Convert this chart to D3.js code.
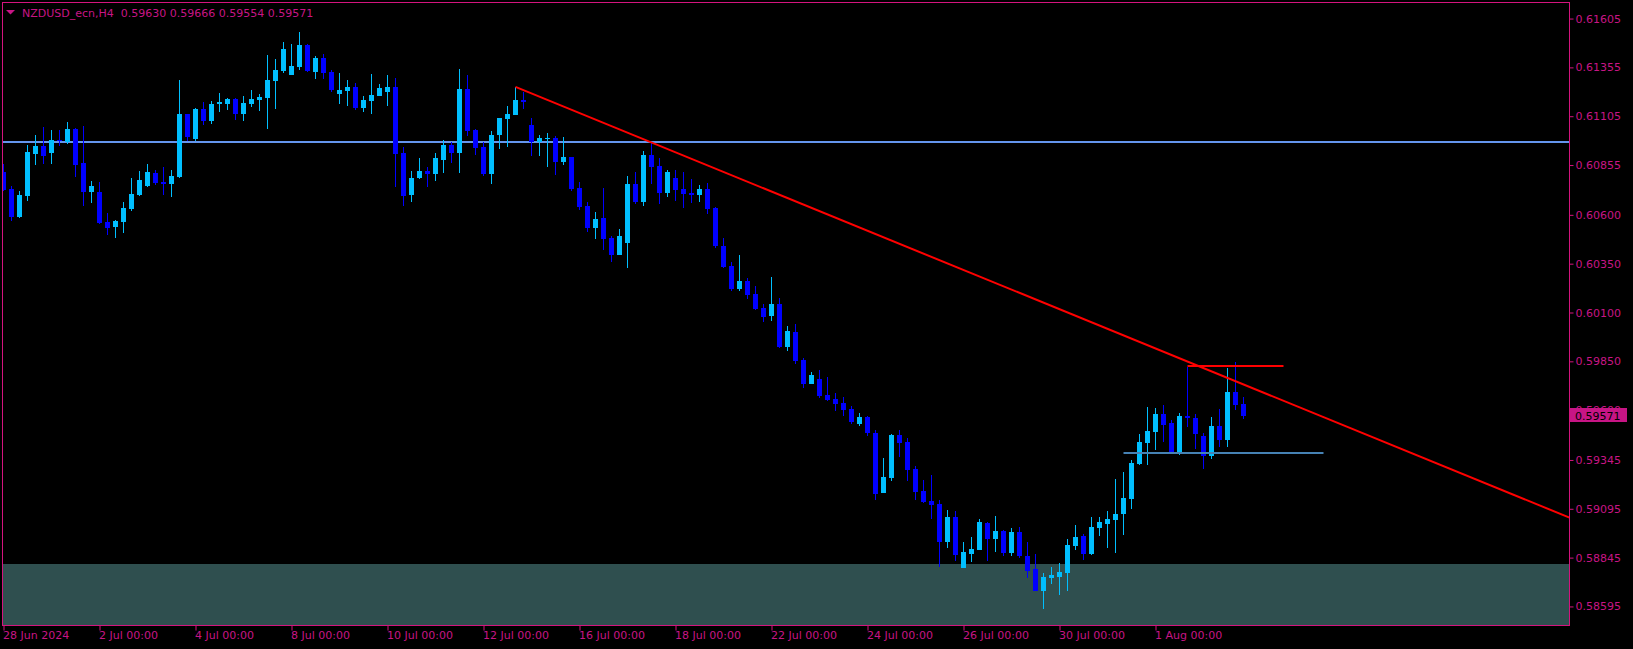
<!DOCTYPE html>
<html><head><meta charset="utf-8">
<script src="https://cdn.jsdelivr.net/npm/d3@7"></script>
<style>
html,body{margin:0;padding:0;background:#000;overflow:hidden}
svg{display:block}
text{font-family:"DejaVu Sans",sans-serif;font-size:11px}
</style>
</head><body><svg id="c" width="1633" height="649"></svg>
<script>
const symbol = "NZDUSD_ecn,H4";
const opens = [
.60819,.60732,.60589,.60696,.60912,.60952,.60917,.60983,.60973,.61040,
.60865,.60717,.60717,.60563,.60538,.60563,.60630,.60702,.60748,.60814,
.60768,.60758,.60794,.61116,.60988,.61142,.61080,.61168,.61168,.61193,
.61116,.61168,.61188,.61198,.61285,.61336,.61316,.61357,.61470,.61331,
.61403,.61331,.61219,.61234,.61255,.61147,.61183,.61209,.61229,.61255,
.60917,.60702,.60789,.60824,.60809,.60881,.60958,.60917,.61244,.61034,
.60947,.60809,.61009,.61091,.61111,.61188,.61060,.60973,.60988,.60993,
.60871,.60896,.60737,.60645,.60533,.60584,.60481,.60394,.60456,.60758,
.60666,.60906,.60850,.60712,.60789,.60732,.60712,.60702,.60732,.60635,
.60440,.60338,.60220,.60261,.60195,.60123,.60082,.60144,.59923,.60000,
.59857,.59734,.59760,.59678,.59657,.59637,.59606,.59529,.59565,.59483,
.59176,.59253,.59473,.59437,.59299,.59186,.59135,.59120,.58925,.59053,
.58792,.58864,.58884,.59022,.58940,.58981,.58869,.58976,.58853,.58787,
.58674,.58741,.58746,.58766,.58905,.58956,.58864,.58997,.59017,.59038,
.59068,.59145,.59324,.59432,.59488,.59580,.59534,.59386,.59570,.59560,
.59468,.59365,.59519,.59447,.59693,.59630];
const highs = [
.60860,.60748,.60722,.60958,.61009,.61050,.61034,.61034,.61075,.61045,
.61055,.60773,.60768,.60609,.60574,.60666,.60789,.60824,.60860,.60830,
.60845,.60830,.61290,.61116,.61147,.61178,.61183,.61224,.61198,.61198,
.61209,.61239,.61219,.61418,.61398,.61485,.61475,.61536,.61475,.61413,
.61424,.61342,.61326,.61290,.61275,.61209,.61321,.61270,.61316,.61301,
.60947,.60824,.60891,.60845,.60917,.60983,.60973,.61347,.61316,.61040,
.60973,.61029,.61096,.61157,.61255,.61229,.61096,.61009,.61019,.61004,
.60999,.60896,.60768,.60666,.60615,.60737,.60492,.60528,.60799,.60819,
.60927,.60973,.60891,.60830,.60830,.60819,.60784,.60753,.60763,.60640,
.60481,.60359,.60394,.60277,.60236,.60144,.60282,.60174,.60031,.60041,
.59867,.59795,.59806,.59770,.59688,.59667,.59621,.59585,.59570,.59498,
.59355,.59478,.59498,.59457,.59314,.59242,.59268,.59140,.59088,.59083,
.58925,.58951,.59043,.59027,.59058,.58986,.58997,.59002,.58925,.58864,
.58766,.58797,.58817,.58940,.59012,.58966,.59053,.59053,.59083,.59248,
.59283,.59345,.59478,.59616,.59611,.59626,.59550,.59585,.59821,.59580,
.59483,.59565,.59606,.59816,.59847,.59666];
const lows = [
.60722,.60570,.60584,.60671,.60855,.60860,.60860,.60952,.60963,.60794,
.60645,.60661,.60553,.60497,.60481,.60507,.60620,.60696,.60743,.60753,
.60702,.60691,.60789,.60978,.60978,.61060,.61065,.61127,.61137,.61086,
.61080,.61152,.61132,.61040,.61142,.61326,.61316,.61342,.61331,.61296,
.61296,.61229,.61168,.61157,.61137,.61127,.61116,.61209,.61157,.60743,
.60645,.60666,.60784,.60743,.60773,.60814,.60865,.60814,.61004,.60906,
.60799,.60758,.60937,.60947,.61111,.61142,.60901,.60901,.60845,.60804,
.60855,.60722,.60625,.60512,.60476,.60420,.60359,.60394,.60328,.60655,
.60645,.60758,.60655,.60691,.60671,.60635,.60661,.60666,.60604,.60430,
.60328,.60210,.60210,.60169,.60113,.60051,.60056,.59918,.59903,.59836,
.59713,.59734,.59662,.59647,.59596,.59570,.59529,.59519,.59468,.59140,
.59176,.59237,.59360,.59237,.59140,.59125,.59043,.58797,.58894,.58828,
.58792,.58823,.58884,.58828,.58874,.58853,.58853,.58843,.58741,.58674,
.58582,.58710,.58654,.58674,.58884,.58833,.58858,.58956,.58894,.58869,
.58961,.59094,.59319,.59319,.59396,.59437,.59386,.59370,.59514,.59401,
.59299,.59350,.59411,.59411,.59601,.59554];
const closes = [
.60729,.60589,.60702,.60922,.60952,.60901,.60983,.60978,.61040,.60855,
.60717,.60748,.60558,.60533,.60568,.60635,.60707,.60778,.60819,.60763,
.60758,.60799,.61116,.60999,.61142,.61080,.61168,.61178,.61193,.61116,
.61173,.61193,.61203,.61290,.61342,.61449,.61362,.61470,.61336,.61403,
.61326,.61239,.61239,.61255,.61147,.61188,.61214,.61249,.61255,.60912,
.60696,.60789,.60824,.60809,.60891,.60958,.60917,.61244,.61029,.60942,
.60809,.61009,.61096,.61116,.61188,.61178,.60973,.60993,.60993,.60871,
.60896,.60732,.60640,.60533,.60579,.60476,.60394,.60492,.60758,.60666,
.60906,.60845,.60712,.60819,.60727,.60707,.60702,.60732,.60630,.60440,
.60333,.60220,.60261,.60190,.60118,.60077,.60144,.59923,.60005,.59852,
.59734,.59780,.59672,.59652,.59632,.59601,.59539,.59565,.59483,.59171,
.59258,.59473,.59432,.59294,.59181,.59130,.59114,.58925,.59053,.58858,
.58874,.58889,.59027,.58940,.58981,.58869,.58976,.58853,.58776,.58674,
.58746,.58756,.58771,.58910,.58951,.58864,.59002,.59027,.59043,.59068,
.59150,.59329,.59437,.59493,.59580,.59524,.59386,.59570,.59560,.59478,
.59365,.59519,.59447,.59693,.59626,.59571];

const xTickIndex = [0,12,24,36,48,60,72,84,96,108,120,132,144];
const xTickLabels = ["28 Jun 2024","2 Jul 00:00","4 Jul 00:00","8 Jul 00:00","10 Jul 00:00","12 Jul 00:00","16 Jul 00:00","18 Jul 00:00","22 Jul 00:00","24 Jul 00:00","26 Jul 00:00","30 Jul 00:00","1 Aug 00:00"];
const yTickValues = [0.61605,0.61355,0.61105,0.60855,0.60600,0.60350,0.60100,0.59850,0.59600,0.59345,0.59095,0.58845,0.58595];

const resistanceLevel = 0.60973;
const supportZoneTop = 0.58812;
const trendPoints = [[64,0.61255],[148,0.59849]];
const swingHigh = {from:148,to:160,price:0.59828};
const rangeLow = {from:140,to:165,price:0.59381};
const lastPrice = 0.59571;

const FG = "#C71585", LINE = "#D4147E", BULL = "#00BFFF", BEAR = "#0000FF";
const L = 2.5, T = 2.5, R = 1569.5, B = 625.5;

const candles = opens.map((o,i)=>({i, o, h:highs[i], l:lows[i], c:closes[i]}));

const svg = d3.select("#c");
svg.append("rect").attr("width",1633).attr("height",649).attr("fill","#000");

const x = d3.scaleLinear().domain([0,195.75]).range([3.5,1569.5]);
const y = d3.scaleLinear().domain([0.585,0.617]).range([625,0]);

svg.append("clipPath").attr("id","plot").append("rect")
  .attr("x",L).attr("y",T).attr("width",R-L).attr("height",B-T);
const g = svg.append("g").attr("clip-path","url(#plot)");

// support zone
g.append("rect").attr("x",L).attr("width",R-L)
  .attr("y",Math.round(y(supportZoneTop))).attr("height",B-Math.round(y(supportZoneTop)))
  .attr("fill","#2F4F4F");

// resistance line
g.append("line").attr("x1",L).attr("x2",R)
  .attr("y1",Math.round(y(resistanceLevel))).attr("y2",Math.round(y(resistanceLevel)))
  .attr("stroke","#6495ED").attr("stroke-width",2);

// candles
const cg = g.append("g").attr("shape-rendering","crispEdges");
cg.selectAll(".wick").data(candles).join("rect")
  .attr("x",d=>x(d.i)-0.5).attr("width",1)
  .attr("y",d=>Math.round(y(d.h))).attr("height",d=>Math.max(1,Math.round(y(d.l))-Math.round(y(d.h))))
  .attr("fill",d=>d.c>=d.o?BULL:BEAR);
cg.selectAll(".body").data(candles).join("rect")
  .attr("x",d=>x(d.i)-2.5).attr("width",5)
  .attr("y",d=>Math.round(y(Math.max(d.o,d.c))))
  .attr("height",d=>Math.max(1,Math.round(y(Math.min(d.o,d.c)))-Math.round(y(Math.max(d.o,d.c)))))
  .attr("fill",d=>d.c>=d.o?BULL:BEAR);

// short horizontal levels
g.append("line").attr("x1",x(rangeLow.from)).attr("x2",x(rangeLow.to))
  .attr("y1",Math.round(y(rangeLow.price))).attr("y2",Math.round(y(rangeLow.price)))
  .attr("stroke","#4682B4").attr("stroke-width",2);
g.append("line").attr("x1",x(swingHigh.from)).attr("x2",x(swingHigh.to))
  .attr("y1",Math.round(y(swingHigh.price))).attr("y2",Math.round(y(swingHigh.price)))
  .attr("stroke","#FF0000").attr("stroke-width",2);

// trend ray
const [p0,p1] = trendPoints;
const slope = (p1[1]-p0[1])/(p1[0]-p0[0]);
const endI = x.invert(R);
g.append("line").attr("x1",x(p0[0])).attr("y1",y(p0[1]))
  .attr("x2",x(endI)).attr("y2",y(p0[1]+slope*(endI-p0[0])))
  .attr("stroke","#FF0000").attr("stroke-width",2);

// frame
svg.append("rect").attr("x",L).attr("y",T).attr("width",R-L).attr("height",B-T)
  .attr("fill","none").attr("stroke",LINE).attr("stroke-width",1);

// y axis
const ya = svg.append("g").attr("transform",`translate(${R},0)`)
  .call(d3.axisRight(y).tickValues(yTickValues).tickFormat(d3.format(".5f")).tickSize(4).tickPadding(2));
ya.select(".domain").remove();
ya.selectAll("line").attr("stroke",LINE);
ya.selectAll("text").attr("fill",FG).style("font-family","DejaVu Sans").style("font-size","11px");

// x axis
const xa = svg.append("g").attr("transform",`translate(0,${B})`)
  .call(d3.axisBottom(x).tickValues(xTickIndex).tickFormat((d,i)=>xTickLabels[i]).tickSize(5));
xa.select(".domain").remove();
xa.selectAll("line").attr("stroke",LINE);
xa.selectAll("text").attr("fill",FG).attr("text-anchor","start").attr("x",-1).attr("y",6)
  .style("font-family","DejaVu Sans").style("font-size","11px");

// last price label
const ly = y(lastPrice);
svg.append("rect").attr("x",1570).attr("y",Math.round(ly)-8).attr("width",57).attr("height",14).attr("fill",FG);
svg.append("text").attr("x",1575).attr("y",Math.round(ly)+3.5).attr("fill","#000").text(d3.format(".5f")(lastPrice));

// title
svg.append("path").attr("d","M6,10 L15,10 L10.5,14.5 Z").attr("fill",FG);
svg.append("text").attr("x",22).attr("y",16.5).attr("fill",FG).style("white-space","pre")
  .text(`${symbol}  ${d3.format(".5f")(opens[155])} ${d3.format(".5f")(highs[155])} ${d3.format(".5f")(lows[155])} ${d3.format(".5f")(closes[155])}`);
</script>
</body></html>
